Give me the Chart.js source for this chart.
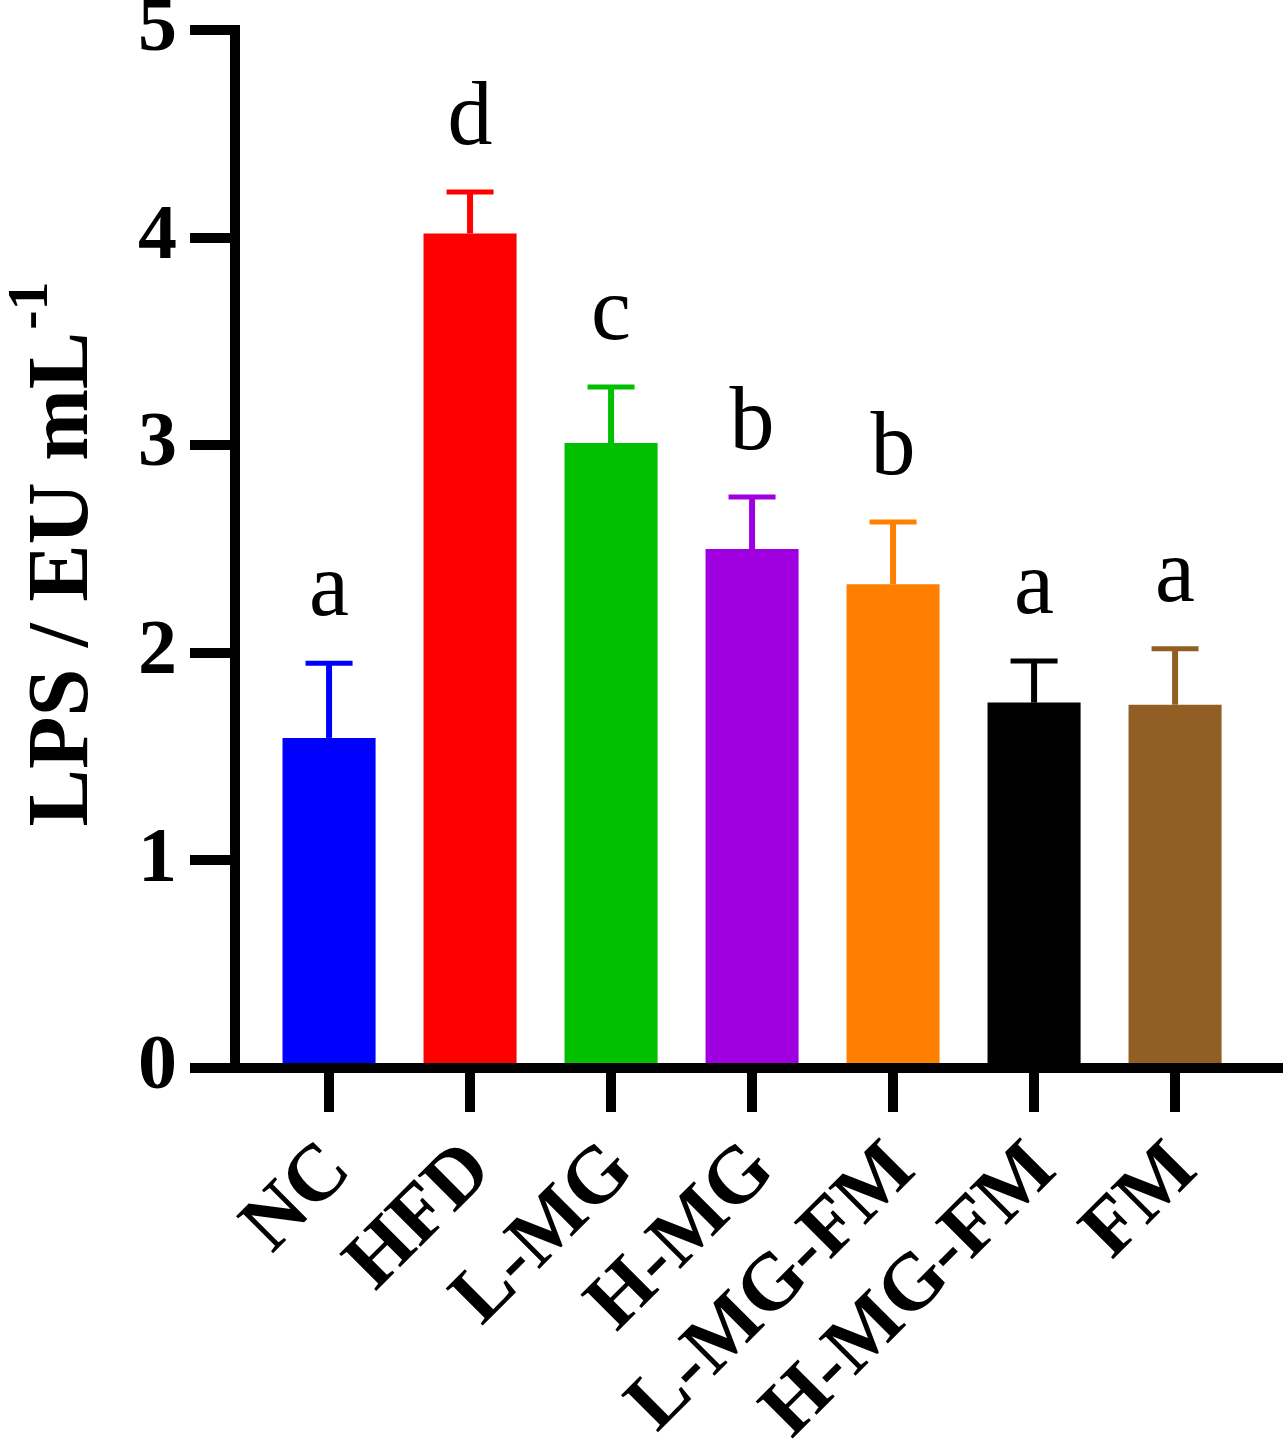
<!DOCTYPE html>
<html>
<head>
<meta charset="utf-8">
<title>LPS</title>
<script src="https://cdn.jsdelivr.net/npm/chart.js@4.4.1/dist/chart.umd.min.js"></script>
<style>
  html, body { margin: 0; padding: 0; background: #fff; }
  #wrap { width: 1283px; height: 1448px; }
</style>
</head>
<body>
<div id="wrap"><canvas id="lpsChart"></canvas></div>
<script>
// groups, mean LPS and SD
const groups = ['NC', 'HFD', 'L-MG', 'H-MG', 'L-MG-FM', 'H-MG-FM', 'FM'];
const lpsMean = [1.59, 4.02, 3.01, 2.50, 2.33, 1.76, 1.75];
const lpsSD = [0.36, 0.20, 0.27, 0.25, 0.30, 0.20, 0.27];
const sigLetters = ['a', 'd', 'c', 'b', 'b', 'a', 'a'];
const barColors = ['#0000ff', '#ff0000', '#00c000', '#a000e0', '#ff8000', '#000000', '#915f23'];
const yTicks = [0, 1, 2, 3, 4, 5];

const serif = "'Liberation Serif', 'Times New Roman', serif";

// upper error bars + letters above them
const errorBarPlugin = {
  id: 'errorBars',
  afterDatasetsDraw(chart) {
    const { ctx, scales: { x, y } } = chart;
    ctx.save();
    lpsMean.forEach((m, i) => {
      const px = x.getPixelForValue(i);
      const top = y.getPixelForValue(m + lpsSD[i]);
      const base = y.getPixelForValue(m);
      ctx.strokeStyle = barColors[i];
      ctx.lineWidth = 6;
      ctx.beginPath();
      ctx.moveTo(px, base);
      ctx.lineTo(px, top);
      ctx.stroke();
      ctx.lineWidth = 5;
      ctx.beginPath();
      ctx.moveTo(px - 23.5, top);
      ctx.lineTo(px + 23.5, top);
      ctx.stroke();

      ctx.fillStyle = '#000';
      ctx.font = '90px ' + serif;
      ctx.textAlign = 'center';
      ctx.textBaseline = 'alphabetic';
      ctx.fillText(sigLetters[i], px, top - 48);
    });
    ctx.restore();
  }
};

// y title with superscript -1
const yTitlePlugin = {
  id: 'yTitle',
  afterDraw(chart) {
    const { ctx, chartArea } = chart;
    const main = 'LPS / EU mL';
    const sup = '-1';
    ctx.save();
    ctx.font = 'bold 86px ' + serif;
    const w1 = ctx.measureText(main).width;
    ctx.font = 'bold 58px ' + serif;
    const w2 = ctx.measureText(sup).width;
    ctx.translate(chartArea.left - 148, (chartArea.top + chartArea.bottom) / 2 + 6);
    ctx.rotate(-Math.PI / 2);
    ctx.fillStyle = '#000';
    ctx.textAlign = 'left';
    ctx.textBaseline = 'alphabetic';
    const start = -(w1 + w2) / 2;
    ctx.font = 'bold 86px ' + serif;
    ctx.fillText(main, start, 0);
    ctx.font = 'bold 58px ' + serif;
    ctx.fillText(sup, start + w1 + 2, -40);
    ctx.restore();
  }
};

new Chart(document.getElementById('lpsChart'), {
  type: 'bar',
  data: {
    datasets: [{
      data: lpsMean.map((v, i) => ({ x: i, y: v })),
      backgroundColor: barColors,
      borderWidth: 0,
      barPercentage: 0.66,
      categoryPercentage: 1
    }]
  },
  options: {
    responsive: true,
    maintainAspectRatio: false,
    animation: false,
    layout: { padding: { top: 30, right: 5, left: 0, bottom: 0 } },
    plugins: { legend: { display: false }, tooltip: { enabled: false } },
    scales: {
      x: {
        type: 'linear',
        offset: false,
        min: -0.667,
        max: 6.73,
        afterBuildTicks: s => { s.ticks = groups.map((g, i) => ({ value: i })); },
        afterFit: s => { s.height = 380; s.paddingLeft = 0; s.paddingRight = 0; },
        grid: { offset: false, drawOnChartArea: false, color: '#000', lineWidth: 10, tickLength: 44 },
        border: { color: '#000', width: 10, z: 1 },
        ticks: {
          callback: v => groups[v],
          autoSkip: false,
          minRotation: 45,
          maxRotation: 45,
          color: '#000',
          padding: 12,
          labelOffset: 10,
          font: { family: serif, size: 80, weight: 'bold' }
        }
      },
      y: {
        min: 0,
        max: 5,
        afterBuildTicks: s => { s.ticks = yTicks.map(v => ({ value: v })); },
        afterFit: s => { s.width = 235; s.paddingTop = 0; s.paddingBottom = 0; },
        grid: { drawOnChartArea: false, color: '#000', lineWidth: 10, tickLength: 45 },
        border: { color: '#000', width: 10 },
        ticks: {
          color: '#000',
          padding: 13,
          font: { family: serif, size: 78, weight: 'bold' }
        }
      }
    }
  },
  plugins: [errorBarPlugin, yTitlePlugin]
});
</script>
</body>
</html>
